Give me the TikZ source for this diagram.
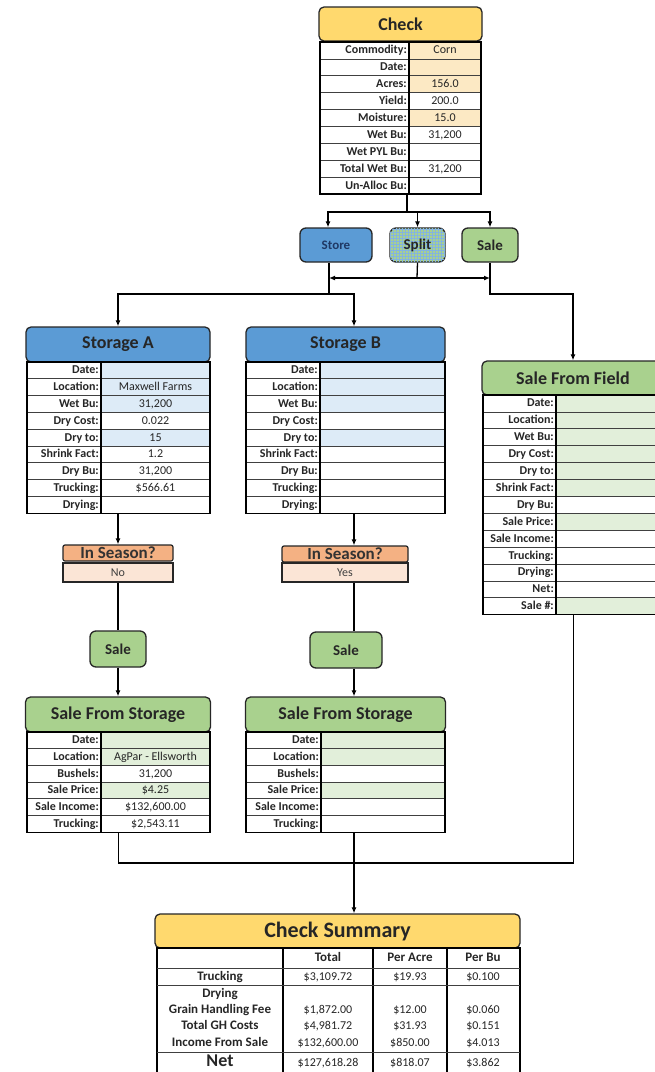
\documentclass[tikz,border=0pt]{standalone}
\usepackage{fontspec}
\setmainfont{Carlito}
\usepackage{tikz}
\usetikzlibrary{arrows.meta,patterns,calc}

\definecolor{hdrYellow}{HTML}{FFD96E}
\definecolor{cellYellow}{HTML}{FCE9C4}
\definecolor{hdrBlue}{HTML}{5B9BD5}
\definecolor{cellBlue}{HTML}{DDEBF7}
\definecolor{hdrGreen}{HTML}{A9D18E}
\definecolor{cellGreen}{HTML}{E2EFDA}
\definecolor{hdrOrange}{HTML}{F4B183}
\definecolor{cellOrange}{HTML}{FBE5D6}
\definecolor{edge}{HTML}{262626}
\definecolor{navy}{HTML}{1F3864}

% name, left, divider, right, top, row height, rows (label/value/fill)
\newcommand{\datatable}[7]{%
  \foreach \lab/\val/\fil [count=\i] in {#7} {
    \fill[\fil] (#3,{#5+(\i-1)*#6}) rectangle (#4,{#5+\i*#6});
    \draw[rowline] (#2,{#5+(\i-1)*#6}) -- (#4,{#5+(\i-1)*#6});
    \node[lab] (#1l\i) at (#3-2,{#5+(\i-0.5)*#6}) {\lab};
    \node[val] (#1v\i) at ({(#3+#4)/2},{#5+(\i-0.5)*#6}) {\val};
    \xdef\nrows{\i}
  }
  \node[tbl, minimum width={#4-#2}, minimum height={\nrows*#6}] (#1) at (#2,#5) {};
  \draw[tblline] (#3,#5) -- (#3,{#5+\nrows*#6});
}

\begin{document}
\begin{tikzpicture}[x=1pt,y=-1pt,
  hdr/.style={draw=edge, line width=1.3pt, rounded corners=5pt, inner sep=0pt,
    font=\bfseries\fontsize{18}{18}\selectfont, text=black!85},
  btn/.style={draw=edge, line width=1.3pt, rounded corners=6pt, inner sep=0pt,
    minimum height=34, font=\bfseries\fontsize{15}{15}\selectfont, text=black!85},
  ask/.style={draw=edge, line width=1.2pt, rounded corners=2pt, fill=hdrOrange, inner sep=0pt,
    minimum height=16, text height=10.5pt, text depth=0pt,
    font=\bfseries\fontsize{17}{17}\selectfont, text=black!80},
  answer/.style={draw=edge, line width=1.2pt, fill=cellOrange, inner sep=0pt,
    minimum height=19, font=\fontsize{12}{12}\selectfont, text=black!75},
  tbl/.style={draw=black, line width=1.3pt, anchor=north west, inner sep=0pt, outer sep=0pt},
  tblline/.style={line width=1.3pt},
  rowline/.style={line width=0.7pt, black!75},
  lab/.style={anchor=east, inner sep=0pt, text height=9pt, text depth=2pt,
    font=\bfseries\fontsize{12}{12}\selectfont, text=black!85},
  val/.style={inner sep=0pt, text height=9pt, text depth=2pt,
    font=\fontsize{12}{12}\selectfont, text=black!85},
  sumlab/.style={inner sep=0pt, text height=9pt, text depth=2pt,
    font=\bfseries\fontsize{13}{13}\selectfont, text=black!85},
  conn/.style={line width=1.3pt},
  arr/.style={conn, -{Latex[length=6pt,width=5pt]}},
  arrboth/.style={conn, {Latex[length=6pt,width=5pt]}-{Latex[length=6pt,width=5pt]}}]
\useasboundingbox (0,0) rectangle (655,1072);
\clip (0,0) rectangle (655,1072);
\fill[white] (0,0) rectangle (655,1072);

% check
\node[hdr, fill=hdrYellow, minimum width=163, minimum height=34] (chk) at (400.5,24) {Check};
\datatable{chkT}{320}{409}{481}{42}{16.9}{Commodity:/Corn/cellYellow, Date://cellYellow,
  Acres:/156.0/cellYellow, Yield:/200.0/white, Moisture:/15.0/cellYellow,
  Wet Bu:/{31,200}/white, Wet PYL Bu://white, Total Wet Bu:/{31,200}/white, Un-Alloc Bu://white}

% choice
\node[btn, fill=hdrBlue, minimum width=72, text=navy, font=\bfseries\fontsize{13}{13}\selectfont] (store) at (336,245) {Store};
\node[btn, fill=hdrGreen, minimum width=55,
  postaction={pattern=grid, pattern color=hdrBlue!75}] (split) at (417.5,245) {Split};
\node[btn, fill=hdrGreen, minimum width=56] (sale) at (490,245) {Sale};

% storage
\node[hdr, fill=hdrBlue, minimum width=184, minimum height=35] (stA) at (118,344.5) {Storage A};
\datatable{stAT}{27}{101}{210}{362}{16.8}{Date://cellBlue, Location:/Maxwell Farms/cellBlue,
  Wet Bu:/{31,200}/cellBlue, Dry Cost:/0.022/white, Dry to:/15/cellBlue, Shrink Fact:/1.2/white,
  Dry Bu:/{31,200}/white, Trucking:/\$566.61/white, Drying://white}
\node[hdr, fill=hdrBlue, minimum width=199, minimum height=35] (stB) at (345.5,344.5) {Storage B};
\datatable{stBT}{246}{320}{445}{362}{16.8}{Date://cellBlue, Location://cellBlue,
  Wet Bu://cellBlue, Dry Cost://white, Dry to://cellBlue, Shrink Fact://white,
  Dry Bu://white, Trucking://white, Drying://white}

% sale from field
\node[hdr, fill=hdrGreen, minimum width=182, minimum height=34] (sff) at (573,378) {Sale From Field};
\datatable{sffT}{483}{556}{664}{395}{16.9}{Date://cellGreen, Location://cellGreen,
  Wet Bu://cellGreen, Dry Cost://cellGreen, Dry to://cellGreen, Shrink Fact://cellGreen,
  Dry Bu://white, Sale Price://cellGreen, Sale Income://white, Trucking://white,
  Drying://white, Net://white, Sale \#://cellGreen}

% in season
\node[ask, minimum width=110] (isA) at (118,553) {In Season?};
\node[answer, minimum width=110] (isAv) at (118,572.5) {No};
\node[ask, minimum width=126] (isB) at (345,554) {In Season?};
\node[answer, minimum width=126] (isBv) at (345,572.5) {Yes};
\node[btn, fill=hdrGreen, minimum width=56, minimum height=36] (saleA) at (118,649) {Sale};
\node[btn, fill=hdrGreen, minimum width=72, minimum height=36] (saleB) at (346,650) {Sale};

% sale from storage
\node[hdr, fill=hdrGreen, minimum width=185, minimum height=35] (sfsA) at (118,714.5) {Sale From Storage};
\datatable{sfsAT}{27}{101}{210}{732}{16.7}{Date://cellGreen, Location:/AgPar - Ellsworth/cellGreen,
  Bushels:/{31,200}/white, Sale Price:/\$4.25/cellGreen, Sale Income:/{\$132,600.00}/white,
  Trucking:/{\$2,543.11}/white}
\node[hdr, fill=hdrGreen, minimum width=200, minimum height=35] (sfsB) at (345.5,714.5) {Sale From Storage};
\datatable{sfsBT}{246}{321}{445}{732}{16.7}{Date://cellGreen, Location://cellGreen,
  Bushels://white, Sale Price://cellGreen, Sale Income://white, Trucking://white}

% check summary
\node[hdr, fill=hdrYellow, minimum width=365, minimum height=34,
  font=\bfseries\fontsize{22}{22}\selectfont] (sum) at (337.5,931) {Check Summary};
\node[tbl, minimum width=363, minimum height=132] (sumT) at (157,948) {};
\foreach \xx in {283,373,447} \draw[tblline] (\xx,948) -- (\xx,1080);
\foreach \yy in {968,985,1052} \draw[rowline] (157,\yy) -- (520,\yy);
\node[sumlab] (sumH1) at (328,958) {Total};
\node[sumlab] (sumH2) at (410,958) {Per Acre};
\node[sumlab] (sumH3) at (483,958) {Per Bu};
\foreach \lab/\tot/\acr/\bu/\yy [count=\i] in {Trucking/{\$3,109.72}/\$19.93/\$0.100/977,
  Drying////993.5, Grain Handling Fee/{\$1,872.00}/\$12.00/\$0.060/1010,
  Total GH Costs/{\$4,981.72}/\$31.93/\$0.151/1026,
  Income From Sale/{\$132,600.00}/\$850.00/\$4.013/1043} {
  \node[sumlab] (sumL\i) at (220,\yy) {\lab};
  \node[val] (sumT\i) at (328,\yy) {\tot};
  \node[val] (sumA\i) at (410,\yy) {\acr};
  \node[val] (sumB\i) at (483,\yy) {\bu};
}
\node[sumlab, font=\bfseries\fontsize{18}{18}\selectfont] (netL) at (220,1063) {Net};
\node[val] (netT) at (328,1063) {\$127,618.28};
\node[val] (netA) at (410,1063) {\$818.07};
\node[val] (netB) at (483,1063) {\$3.862};

% connectors
\coordinate (jTop) at (407,212);
\coordinate (jMid) at (417,278);
\coordinate (jLow) at (329,294);
\coordinate (bcol) at (354,0);
\coordinate (jBot) at (354,863);
\draw[conn] (jTop |- chkT.south) -- (jTop);
\draw[arr] (jTop) -| ([xshift=-8pt]store.north);
\draw[arr] (jTop) -| (split.north);
\draw[arr] (jTop) -| (sale.north);
\draw[conn] (split.south) -- (jMid);
\draw[arrboth] (jLow |- jMid) -- (sale.south |- jMid);
\draw[conn] (jLow |- store.south) -- (jLow);
\draw[arr] (jLow) -| (stA.north);
\draw[arr] (jLow) -| (bcol |- stB.north);
\draw[arr] (sale.south) -- (sale.south |- jLow) -| (sff.north);
\draw[arr] (isA.north |- stAT.south) -- (isA.north);
\draw[conn] (isAv.south) -- (saleA.north);
\draw[arr] (saleA.south) -- (sfsA.north);
\draw[arr] (bcol |- stBT.south) -- (bcol |- isB.north);
\draw[conn] (bcol |- isBv.south) -- (bcol |- saleB.north);
\draw[arr] (bcol |- saleB.south) -- (bcol |- sfsB.north);
\draw[conn] (sfsAT.south) |- (jBot) -| (sffT.south);
\draw[arr] (bcol |- sfsBT.south) -- (bcol |- sum.north);
\end{tikzpicture}
\end{document}
